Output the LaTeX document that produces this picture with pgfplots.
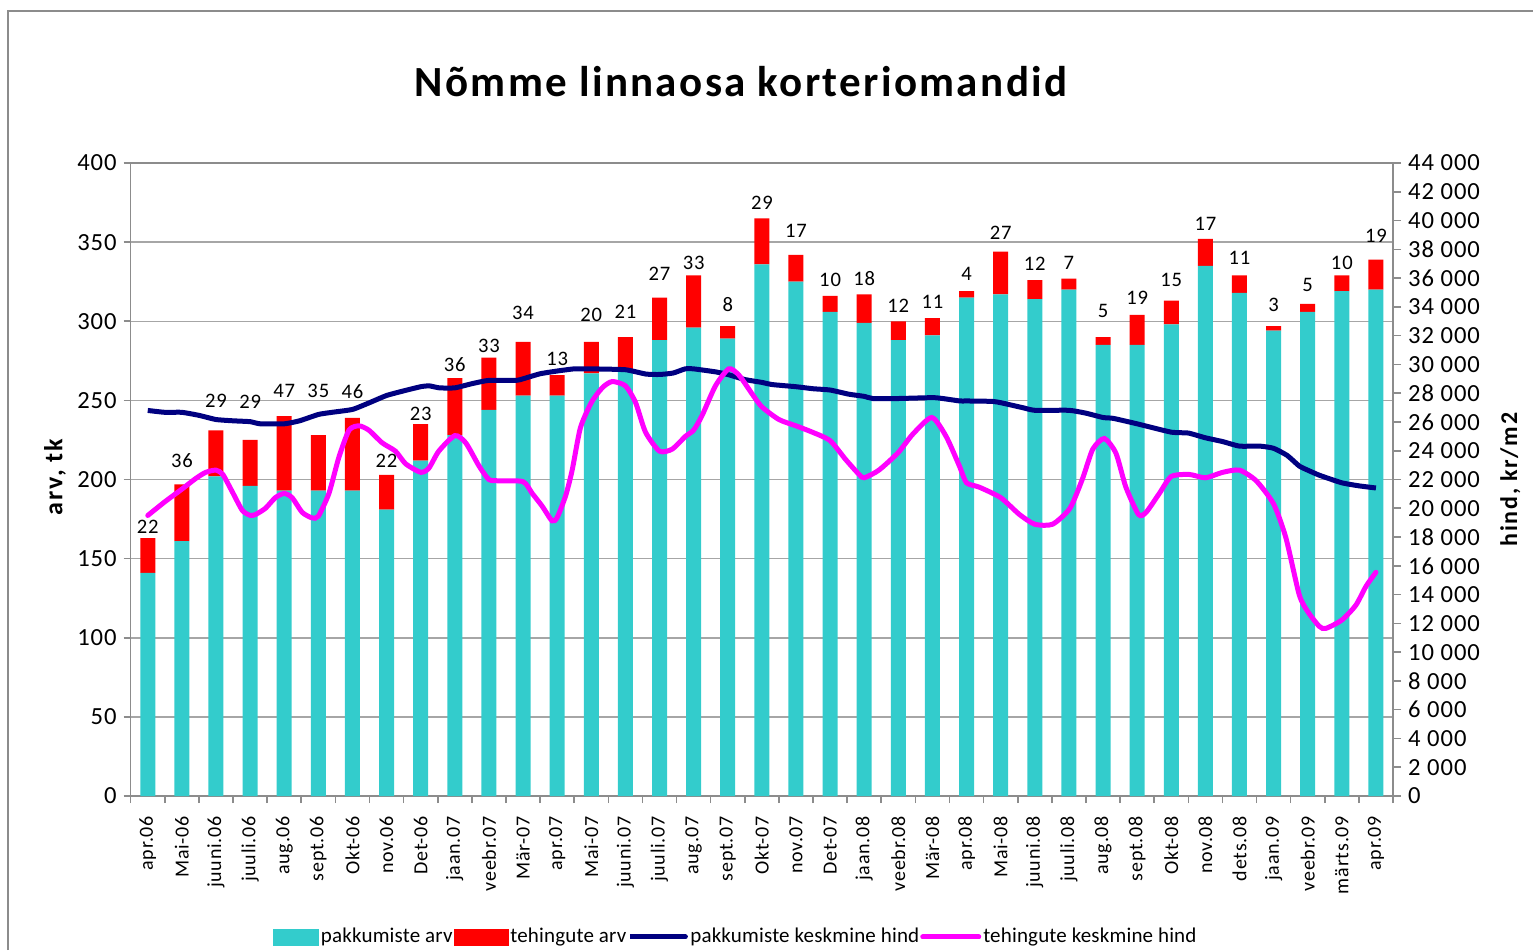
\documentclass[border=0pt]{standalone}
\usepackage{pgfplots}
\pgfplotsset{compat=1.18}
\usepackage{pgfplotstable}
\usepackage{fontspec}
\setmainfont{Carlito}
\newfontfamily\titlefont[LetterSpace=5.5]{Carlito}
\newfontfamily\spacedfont[LetterSpace=4]{Carlito}
\newfontfamily\labfont[LetterSpace=7]{Carlito}
\newfontfamily\legfont[LetterSpace=0.8]{Carlito}
\definecolor{cyanc}{HTML}{33CCCC}
\definecolor{redc}{HTML}{FF0000}
\definecolor{navyc}{HTML}{000080}
\definecolor{magc}{HTML}{FF00FF}
\definecolor{gridc}{HTML}{A6A6A6}
\definecolor{axc}{HTML}{8C8C8C}

% x, pakkumiste arv, tehingute arv, label position
\pgfplotstableread{
x cyan red ly
0 141 22 170.4
1 161 36 212
2 202 29 250
3 196 29 249
4 193 47 255.7
5 193 35 255.7
6 193 46 255.7
7 181 22 212
8 212 23 241.5
9 228 36 272.7
10 244 33 284.7
11 253 34 305
12 253 13 276.2
13 267 20 304
14 269 21 305.7
15 288 27 329.7
16 296 33 336.6
17 289 8 310.5
18 336 29 374.7
19 325 17 356.9
20 306 10 326
21 299 18 327.3
22 288 12 309.5
23 291 11 312.1
24 315 4 330
25 317 27 355.8
26 314 12 336.6
27 320 7 336.6
28 285 5 306.8
29 285 19 314.5
30 298 15 326
31 335 17 361.4
32 318 11 340.3
33 294 3 310.5
34 306 5 322.8
35 319 10 336.6
36 320 19 353.9
}\barstab

\pgfplotstableread{
x y
0 26800
0.5 26670
1 26670
1.5 26460
2 26170
2.5 26080
3 26020
3.3 25870
4 25870
4.45 26080
5 26520
5.4 26670
6 26870
6.5 27340
7 27840
7.5 28160
8 28450
8.25 28510
8.55 28370
9 28370
9.5 28660
10 28890
10.8 28890
11 29000
11.5 29350
12 29540
12.5 29690
13 29690
14 29630
14.6 29330
15 29300
15.4 29400
15.75 29690
16 29690
16.65 29480
17 29300
17.5 28950
18 28750
18.3 28600
19 28450
19.5 28310
20 28220
20.55 27930
21 27780
21.25 27630
22 27630
23 27690
23.3 27630
23.8 27460
24 27460
24.75 27430
25 27340
25.65 26990
26 26810
27 26810
27.5 26610
28 26310
28.3 26250
29 25870
30 25290
30.5 25230
31 24900
31.5 24640
32 24320
32.6 24320
33 24170
33.4 23670
33.75 22940
34 22650
34.35 22290
35 21770
35.5 21560
36 21410
}\navytab

\pgfplotstableread{
x y
0 19500
0.5 20450
1 21330
1.4 22060
1.7 22500
2 22650
2.2 22350
2.47 21180
2.77 19860
3 19510
3.16 19570
3.45 20000
3.74 20740
4 21030
4.23 20740
4.53 19710
4.82 19330
5 19450
5.31 21030
5.6 23530
5.9 25430
6.19 25730
6.48 25430
6.87 24550
7.26 23970
7.56 23090
8 22500
8.24 22790
8.53 23970
9 25050
9.32 24550
9.71 22940
10 22000
10.29 21910
11 21850
11.27 21030
11.56 20150
11.85 19130
12 19360
12.25 20880
12.44 22650
12.68 25580
13 27340
13.32 28370
13.61 28810
14 28510
14.3 27340
14.59 25290
15 23970
15.37 24110
15.76 25000
16 25430
16.25 26460
16.64 28510
17.03 29690
17.33 29250
17.72 27930
18 27050
18.5 26170
19 25730
19.48 25290
20 24700
20.46 23380
20.85 22350
21 22120
21.43 22650
22 23880
22.42 25140
22.98 26310
23.4 25000
23.79 22940
24 21770
24.37 21470
25 20740
25.55 19570
26 18890
26.52 18890
27.03 20000
27.4 22060
27.7 24110
28.04 24850
28.38 23820
28.67 21470
29.04 19570
29.26 19710
29.65 21030
30 22210
30.53 22350
31 22120
31.51 22500
32 22650
32.49 21910
33 20300
33.36 17950
33.75 14000
34 12820
34.34 11790
34.53 11650
35 12230
35.41 13260
35.71 14580
36 15550
}\magtab

\begin{document}
\begin{tikzpicture}[x=1pt,y=1pt]
\path[use as bounding box] (0,0) rectangle (766.5,475);
\draw[axc, line width=0.8pt] (4,0) -- (4,469.5) -- (766.5,469.5);
\node[font=\titlefont\bfseries\fontsize{21.5}{24}\selectfont] at (370.5,434) {Nõmme linnaosa korteriomandid};
\node[rotate=90, font=\labfont\bfseries\fontsize{13}{15}\selectfont] at (27.5,236.5) {arv, tk};
\begin{axis}[
  at={(65.35pt,77pt)}, anchor=south west,
  scale only axis, width=631.15pt, height=316.5pt,
  xmin=-0.5, xmax=36.5, ymin=0, ymax=400,
  ybar stacked, bar width=7.5pt,
  xtick={-0.5,0.5,...,36.5},
  x tick label as interval,
  xticklabels={apr.06,Mai-06,juuni.06,juuli.06,aug.06,sept.06,Okt-06,nov.06,Det-06,jaan.07,veebr.07,Mär-07,apr.07,Mai-07,juuni.07,juuli.07,aug.07,sept.07,Okt-07,nov.07,Det-07,jaan.08,veebr.08,Mär-08,apr.08,Mai-08,juuni.08,juuli.08,aug.08,sept.08,Okt-08,nov.08,dets.08,jaan.09,veebr.09,märts.09,apr.09},
  xticklabel style={rotate=90, anchor=east, font=\spacedfont\fontsize{10}{12}\selectfont},
  xticklabel shift=3pt,
  ytick={0,50,...,400},
  yticklabel style={font=\spacedfont\fontsize{12.3}{14}\selectfont},
  /pgf/number format/assume math mode=true,
  tick pos=left, tick align=outside, major tick length=3.5pt,
  tick style={axc, line width=0.8pt},
  axis line style={axc, line width=0.8pt},
  ymajorgrids, grid style={gridc, line width=0.75pt},
]
\addplot[fill=cyanc, draw=none] table[x=x, y=cyan] {\barstab};
\addplot[fill=redc, draw=none] table[x=x, y=red] {\barstab};
\end{axis}
\begin{axis}[
  at={(65.35pt,77pt)}, anchor=south west,
  scale only axis, width=631.15pt, height=316.5pt,
  xmin=-0.5, xmax=36.5, ymin=0, ymax=44000,
  axis x line=none, axis y line*=right,
  ytick={0,2000,...,44000}, scaled y ticks=false,
  yticklabel style={font=\spacedfont\fontsize{12.3}{14}\selectfont, /pgf/number format/1000 sep={\ }},
  /pgf/number format/assume math mode=true,
  tick align=outside, major tick length=4pt,
  tick style={axc, line width=0.8pt},
  axis line style={axc, line width=0.8pt},
  ylabel={hind, kr/m2},
  ylabel style={at={(axis description cs:1.093,0.5)}, anchor=center, font=\labfont\bfseries\fontsize{12}{14}\selectfont},
  legend columns=4,
  legend style={at={(axis description cs:0.479,-0.2227)}, anchor=center, draw=none, fill=none,
    font=\legfont\fontsize{10.5}{12}\selectfont,
    nodes={inner xsep=0.5pt},
    /tikz/every odd column/.append style={column sep=0.5pt},
    /tikz/every even column/.append style={column sep=0pt}},
  legend image code/.code={\path (0pt,0pt) -- (28pt,0pt); \draw[#1, line cap=round] (5.25pt,0pt) -- (27.75pt,0pt);},
]
\addlegendimage{legend image code/.code={\fill[cyanc] (0pt,-4pt) rectangle (22.5pt,4pt);}}
\addlegendentry{pakkumiste arv}
\addlegendimage{legend image code/.code={\fill[redc] (0pt,-4pt) rectangle (27pt,4pt);}}
\addlegendentry{tehingute arv}
\addplot[navyc, line width=2.5pt, smooth, tension=0.3, mark=none] table[x=x, y=y] {\navytab};
\addlegendentry{pakkumiste keskmine hind}
\addplot[magc, line width=2.5pt, smooth, tension=0.4, mark=none, line cap=round] table[x=x, y=y] {\magtab};
\addlegendentry{tehingute keskmine hind}
\end{axis}
\begin{axis}[
  at={(65.35pt,77pt)}, anchor=south west,
  scale only axis, width=631.15pt, height=316.5pt,
  xmin=-0.5, xmax=36.5, ymin=0, ymax=400,
  hide axis,
  /pgf/number format/assume math mode=true,
]
\addplot[draw=none, mark=none, nodes near coords, point meta=explicit,
  every node near coord/.append style={anchor=center, font=\spacedfont\fontsize{10.3}{12}\selectfont, text=black, inner sep=1pt}]
  table[x=x, y=ly, meta=red] {\barstab};
\end{axis}
\end{tikzpicture}
\end{document}
